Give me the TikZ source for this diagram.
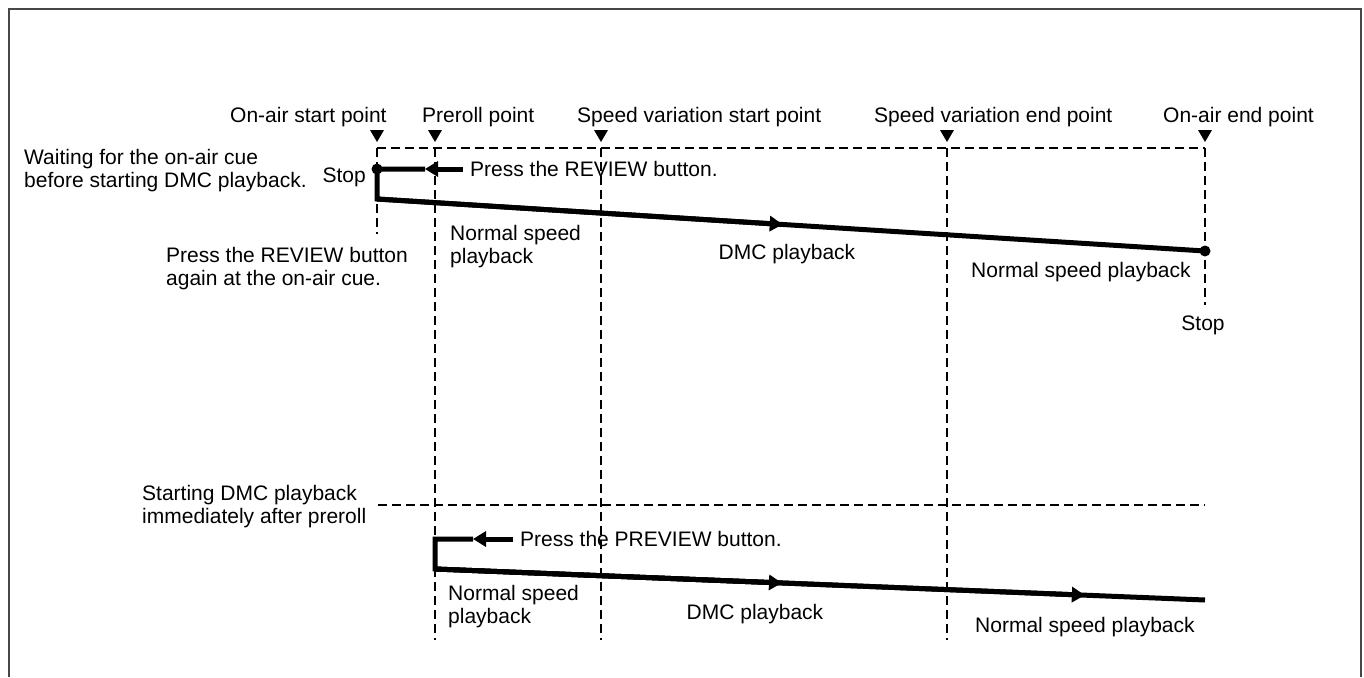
\documentclass[tikz,border=0pt]{standalone}
\usepackage{fontspec}
\setmainfont{Liberation Sans}
\usetikzlibrary{arrows.meta,calc}

\begin{document}
\begin{tikzpicture}[x=1pt, y=-1pt,
	every node/.style={font=\fontsize{21}{23}\selectfont, inner sep=0pt, align=left},
	>={Triangle[length=13pt, width=15pt]},
	run/.style={line width=5pt},
	guide/.style={line width=2pt, dash pattern=on 9pt off 5pt}]
	\useasboundingbox (0,0) rectangle (1364,677);
	\draw[line width=2.5pt, black!72] (9,677) -- (9,9) -- (1361,9) -- (1361,677);
	% cue points along the time line
	\foreach \n/\x/\l/\lx/\len in {onstart/377/On-air start point/230/86, preroll/435/Preroll point/422/492, varstart/601/Speed variation start point/577/492, varend/947/Speed variation end point/874/492, onend/1205/On-air end point/1163/157} {
		\coordinate (\n) at (\x,148);
		\fill (\x-7,130) -- (\x+7,130) -- (\x,142) -- cycle;
		\node[anchor=base west] (\n-label) at (\lx,122) {\l};
		\draw[guide] (\n) -- ++(0,\len);
	}
	\draw[guide] (onstart) -- (onend);
	\coordinate (lowleft) at (378,505);
	\coordinate (lowright) at (1205,505);
	\draw[guide] (lowleft) -- (lowright);

	% waiting for the on-air cue (base anchor = last line)
	\node[anchor=base west] (wait) at (24,187) {Waiting for the on-air cue\\before starting DMC playback.};
	\node[anchor=base east] (stop1) at (366,182) {Stop};
	\node[anchor=base west] (review) at (470,176) {Press the REVIEW button.};
	\node[anchor=base west] (again) at (166,285) {Press the REVIEW button\\again at the on-air cue.};
	\node[anchor=base west] (norm1) at (450,263) {Normal speed\\playback};
	\node[anchor=base] (dmc1) at (787,259) {DMC playback};
	\node[anchor=base west] (norm2) at (971,277) {Normal speed playback};
	\node[anchor=base] (stop2) at (1203,330) {Stop};
	\coordinate (revstart) at (463,169);
	\coordinate (revtip) at (425,169);
	\coordinate (stopA) at (377,169);
	\coordinate (turnA) at (377,199);
	\coordinate (endA) at (1205,251);
	\coordinate (tipA) at ($(turnA)!0.49!(endA)$);
	\draw[run] (revtip) -- (stopA) -- (turnA) -- (endA);
	\draw[run,->] (revstart) -- (revtip);
	\draw[run,->] (turnA) -- (tipA);
	\fill (stopA) circle (5.5);
	\fill (endA) circle (5.5);

	% starting immediately after preroll
	\node[anchor=base west] (starting) at (142,523) {Starting DMC playback\\immediately after preroll};
	\node[anchor=base west] (preview) at (520,546) {Press the PREVIEW button.};
	\node[anchor=base west] (norm3) at (448,623) {Normal speed\\playback};
	\node[anchor=base] (dmc2) at (755,619) {DMC playback};
	\node[anchor=base west] (norm4) at (975,632) {Normal speed playback};
	\coordinate (prevstart) at (513,539);
	\coordinate (prevtip) at (473,539);
	\coordinate (stopB) at (435,539);
	\coordinate (turnB) at (435,569);
	\coordinate (endB) at (1205,600);
	\coordinate (tipB) at ($(turnB)!0.4506!(endB)$);
	\coordinate (tipC) at ($(turnB)!0.844!(endB)$);
	\draw[run] (prevtip) -- (stopB) -- (turnB) -- (endB);
	\draw[run,->] (prevstart) -- (prevtip);
	\draw[run,->] (turnB) -- (tipB);
	\draw[run,->] (turnB) -- (tipC);
\end{tikzpicture}
\end{document}
